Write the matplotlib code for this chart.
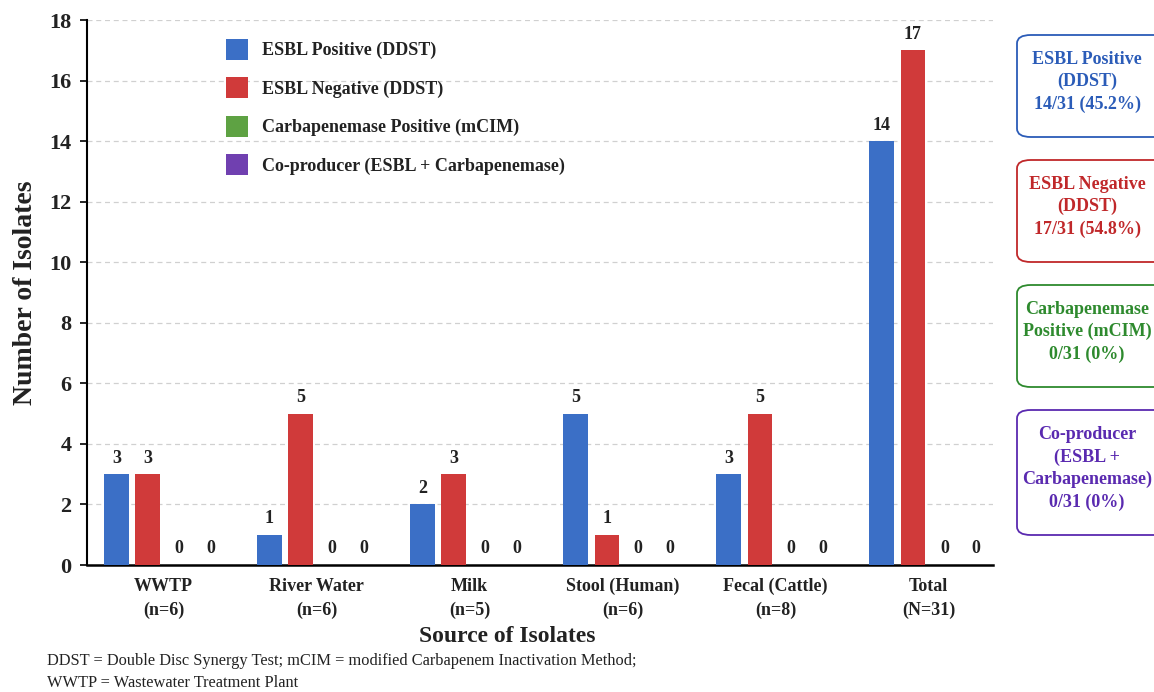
import matplotlib
matplotlib.use("Agg")
import matplotlib.pyplot as plt
from matplotlib.patches import FancyBboxPatch
import numpy as np

plt.rcParams['font.family'] = ['Liberation Serif', 'DejaVu Serif']

categories = ["WWTP\n(n=6)", "River Water\n(n=6)", "Milk\n(n=5)", "Stool (Human)\n(n=6)",
              "Fecal (Cattle)\n(n=8)", "Total\n(N=31)"]
esbl_pos = [3, 1, 2, 5, 3, 14]
esbl_neg = [3, 5, 3, 1, 5, 17]
carb_pos = [0, 0, 0, 0, 0, 0]
co_prod = [0, 0, 0, 0, 0, 0]
series_names = ["ESBL Positive (DDST)", "ESBL Negative (DDST)",
                "Carbapenemase Positive (mCIM)", "Co-producer (ESBL + Carbapenemase)"]
series_colors = ["#3b6fc6", "#d03a3a", "#5ea243", "#7040b0"]
box_texts = ["ESBL Positive\n(DDST)\n14/31 (45.2%)",
             "ESBL Negative\n(DDST)\n17/31 (54.8%)",
             "Carbapenemase\nPositive (mCIM)\n0/31 (0%)",
             "Co-producer\n(ESBL +\nCarbapenemase)\n0/31 (0%)"]
box_colors = ["#2b5cb8", "#c0282a", "#2e8a2e", "#5a2ab0"]
footnote = ("DDST = Double Disc Synergy Test; mCIM = modified Carbapenem Inactivation Method;\n"
            "WWTP = Wastewater Treatment Plant")

W, H = 1154, 692
fig = plt.figure(figsize=(11.54, 6.92), dpi=100)
ax = fig.add_axes([0.0754, 0.1835, 0.785, 0.7875])

x = np.arange(len(categories))
step = 0.205
width = 0.162
all_series = [esbl_pos, esbl_neg, carb_pos, co_prod]
for i, (vals, name, col) in enumerate(zip(all_series, series_names, series_colors)):
    pos = x + (i - 1.5) * step
    ax.bar(pos, vals, width=width, color=col, label=name, zorder=3)
    for p, v in zip(pos, vals):
        ax.text(p, v + 0.25, str(v), ha='center', va='bottom', fontsize=13,
                fontweight='bold', color='#222222', zorder=4)

ax.set_xlim(-0.5, 5.42)
ax.set_ylim(0, 18)
ax.set_yticks(range(0, 19, 2))
ax.set_xticks(x)
ax.set_xticklabels(categories, fontsize=13, fontweight='bold', color='#222222',
                   linespacing=1.55)
for lab in ax.get_yticklabels():
    lab.set_fontsize(16)
    lab.set_fontweight('bold')
    lab.set_color('#222222')
ax.tick_params(axis='x', length=0, pad=9)
ax.tick_params(axis='y', length=5, width=1.2, pad=6)
ax.yaxis.grid(True, linestyle=(0, (4, 3)), color='#d0d0d0', linewidth=0.9, zorder=0)
ax.set_axisbelow(True)
for s in ['top', 'right']:
    ax.spines[s].set_visible(False)
ax.spines['left'].set_linewidth(1.5)
ax.spines['bottom'].set_linewidth(1.8)
ax.set_ylabel("Number of Isolates", fontsize=20, fontweight='bold', labelpad=8,
              color='#222222')
ax.set_xlabel("Source of Isolates", fontsize=17, fontweight='bold', labelpad=0,
              color='#222222')
ax.xaxis.set_label_coords((507 - 87) / 906, -0.112)

leg = ax.legend(loc='upper left', bbox_to_anchor=(0.145, 0.979), frameon=False,
                prop={'weight': 'bold', 'size': 13}, handlelength=1.25, handleheight=1.4,
                labelspacing=0.98, handletextpad=0.75, borderaxespad=0)
for t in leg.get_texts():
    t.set_color('#222222')

# Side summary boxes
box_tops = [35, 160, 285, 410]
box_heights = [102, 102, 102, 125]
for txt, col, top, h in zip(box_texts, box_colors, box_tops, box_heights):
    x0 = 1017 / W
    y0 = 1 - (top + h) / H
    bw = 160 / W
    bh = h / H
    patch = FancyBboxPatch((x0, y0), bw, bh, boxstyle="round,pad=0,rounding_size=0.012",
                           transform=fig.transFigure, facecolor='white', edgecolor=col,
                           linewidth=1.3)
    fig.patches.append(patch)
    fig.text(1087 / W, y0 + bh / 2 + 4 / H, txt, ha='center', va='center', color=col,
             fontsize=13, fontweight='bold', linespacing=1.4)

fig.text(47 / W, 1 - 672 / H, footnote, ha='left', va='center', fontsize=11.8,
         color='#222222', linespacing=1.45)

fig.savefig("out.png", dpi=100, facecolor='white')
